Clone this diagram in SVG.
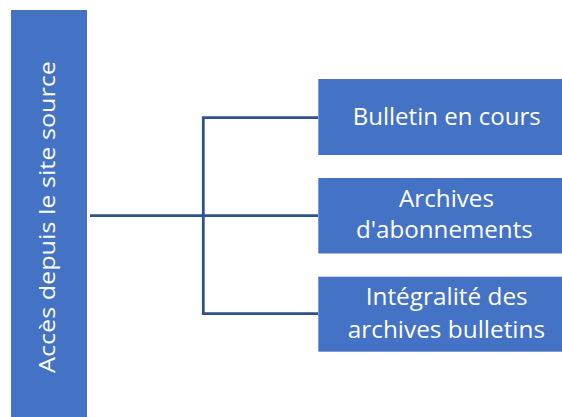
<svg xmlns="http://www.w3.org/2000/svg" width="562" height="417" viewBox="0 0 562 417">
<style>
.box{fill:#4472C4;}
.lbl{font-family:"Open Sans","Liberation Sans",sans-serif;font-size:24px;fill:#FFFFFF;text-anchor:middle;}
.side{font-size:22px;}
.con{fill:none;stroke:#2F528F;stroke-width:2.8;}
</style>
<rect width="562" height="417" fill="#FFFFFF"/>
<g id="connectors">
<path class="con" d="M90,215.7 H203.3"/>
<path class="con" d="M318,117.7 H203.3 V313.7 H318"/>
<path class="con" d="M203.3,215.7 H318"/>
</g>
<g id="node-root">
<rect class="box" x="11" y="10" width="76" height="407"/>
<text class="lbl side" transform="translate(55,217) rotate(-90)" x="0" y="0" textLength="312" lengthAdjust="spacingAndGlyphs">Accès depuis le site source</text>
</g>
<g id="node-1">
<rect class="box" x="318.3" y="79" width="260" height="76"/>
<text class="lbl" x="446.7" y="125" textLength="188" lengthAdjust="spacingAndGlyphs">Bulletin en cours</text>
</g>
<g id="node-2">
<rect class="box" x="318.3" y="178" width="260" height="75.5"/>
<text class="lbl" x="446.5" y="206.7" textLength="95" lengthAdjust="spacingAndGlyphs">Archives</text>
<text class="lbl" x="444.4" y="238.3" textLength="176.7" lengthAdjust="spacingAndGlyphs">d'abonnements</text>
</g>
<g id="node-3">
<rect class="box" x="318.3" y="276.7" width="260" height="75"/>
<text class="lbl" x="446.7" y="305" textLength="162" lengthAdjust="spacingAndGlyphs">Intégralité des</text>
<text class="lbl" x="446.4" y="338.3" textLength="197.3" lengthAdjust="spacingAndGlyphs">archives bulletins</text>
</g>
</svg>
